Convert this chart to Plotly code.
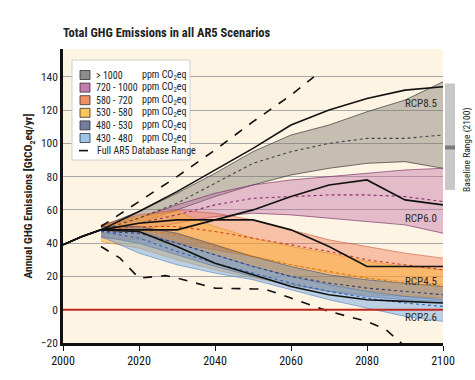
import plotly.graph_objects as go

# ---------------- data ----------------
years = [2010, 2020, 2030, 2040, 2050, 2060, 2070, 2080, 2090, 2100]
hist_years = [2000, 2005, 2010]
hist_vals = [39, 44, 48]

categories = ["> 1000", "720 - 1000", "580 - 720", "530 - 580", "480 - 530", "430 - 480"]
band_low = {
    "> 1000":     [47, 52, 60, 68, 75, 81, 85, 88, 89, 85],
    "720 - 1000": [45, 48, 52, 56, 58, 57, 55, 53, 51, 46],
    "580 - 720":  [43, 42, 40, 36, 32, 27, 22, 19, 17, 15],
    "530 - 580":  [41, 37, 30, 24, 19, 15, 11, 9, 8, 7],
    "480 - 530":  [44, 40, 33, 26, 20, 15, 11, 8, 6, 5],
    "430 - 480":  [44, 34, 27, 22, 18, 12, 6, 1, -4, -7],
}
band_med = {
    "> 1000":     [48, 55, 64, 76, 88, 95, 100, 103, 103, 105],
    "720 - 1000": [48, 52, 57, 63, 67, 68, 69, 69, 68, 65],
    "580 - 720":  [48, 50, 50, 47, 43, 39, 35, 30, 27, 24],
    "530 - 580":  [47, 48, 45, 38, 32, 27, 23, 19, 16, 14],
    "480 - 530":  [47, 46, 40, 33, 26, 20, 16, 13, 11, 9],
    "430 - 480":  [47, 43, 35, 28, 22, 16, 11, 7, 4, 2],
}
band_high = {
    "> 1000":     [50, 59, 70, 82, 95, 105, 111, 119, 126, 137],
    "720 - 1000": [50, 55, 63, 70, 75, 78, 80, 82, 84, 85],
    "580 - 720":  [51, 57, 60, 58, 54, 48, 42, 38, 34, 31],
    "530 - 580":  [50, 56, 59, 50, 43, 38, 34, 29, 26, 24],
    "480 - 530":  [50, 50, 46, 39, 32, 26, 21, 18, 16, 14],
    "430 - 480":  [49, 47, 40, 33, 26, 20, 15, 11, 8, 6],
}

rcp_years = [2010, 2020, 2030, 2040, 2050, 2060, 2070, 2080, 2090, 2100]
rcp_names = ["RCP8.5", "RCP6.0", "RCP4.5", "RCP2.6"]
rcp_vals = {
    "RCP8.5": [48, 59, 71, 84, 97, 111, 120, 127, 132, 134],
    "RCP6.0": [47, 48, 48, 54, 60, 68, 75, 78, 66, 63],
    "RCP4.5": [48, 52, 54, 54, 54, 48, 38, 26, 26, 26],
    "RCP2.6": [47, 47, 38, 28, 21, 14, 9, 6, 5, 4],
}
rcp_label_y = {"RCP8.5": 124, "RCP6.0": 55, "RCP4.5": 17, "RCP2.6": -4.5}

db_upper_years = [2010, 2020, 2030, 2040, 2050, 2060, 2066]
db_upper_vals = [50, 65, 80, 96, 113, 129, 140]
db_lower_years = [2010, 2015, 2020, 2027, 2030, 2040, 2050, 2053, 2060, 2070, 2080, 2085, 2090]
db_lower_vals = [38, 31, 19, 20.5, 19, 13, 12.5, 12.5, 7, -1, -7, -12, -22]

baseline_range = [72, 136]
baseline_median = 97.5

# ---------------- style ----------------
FONT = "Liberation Sans Narrow, Arial Narrow, Roboto Condensed, DejaVu Sans Condensed, Roboto, sans-serif"
fills = {
    "> 1000": "rgba(118,114,108,0.42)",
    "720 - 1000": "rgba(190,105,160,0.40)",
    "580 - 720": "rgba(240,120,80,0.42)",
    "530 - 580": "rgba(252,175,50,0.50)",
    "480 - 530": "rgba(85,95,140,0.42)",
    "430 - 480": "rgba(120,170,225,0.50)",
}
edges = {
    "> 1000": "rgba(60,60,60,0.9)",
    "720 - 1000": "rgba(120,40,100,0.8)",
    "580 - 720": "rgba(200,80,50,0.7)",
    "530 - 580": "rgba(220,140,30,0.7)",
    "480 - 530": "rgba(50,60,110,0.7)",
    "430 - 480": "rgba(70,120,190,0.7)",
}
meds = {
    "> 1000": "#444444",
    "720 - 1000": "#8a2e6e",
    "580 - 720": "#d0401e",
    "530 - 580": "#d97a00",
    "480 - 530": "#2c3a80",
    "430 - 480": "#2f66c0",
}
swatch = {
    "> 1000": "#8c8c8c",
    "720 - 1000": "#c57cae",
    "580 - 720": "#f08e66",
    "530 - 580": "#fcc558",
    "480 - 530": "#727c9e",
    "430 - 480": "#9cc3ea",
}

fig = go.Figure()

for c in categories:
    fig.add_trace(go.Scatter(x=years, y=band_low[c], mode="lines",
                             line=dict(color=edges[c], width=0.8), showlegend=False, hoverinfo="skip"))
    fig.add_trace(go.Scatter(x=years, y=band_high[c], mode="lines", fill="tonexty",
                             fillcolor=fills[c], line=dict(color=edges[c], width=0.8),
                             showlegend=False, hoverinfo="skip"))
for c in categories:
    fig.add_trace(go.Scatter(x=years, y=band_med[c], mode="lines",
                             line=dict(color=meds[c], width=1.1, dash="dot"), showlegend=False))

for r in rcp_names:
    fig.add_trace(go.Scatter(x=hist_years + rcp_years[1:], y=hist_vals + rcp_vals[r][1:], mode="lines",
                             line=dict(color="#111111", width=1.6), showlegend=False))

fig.add_trace(go.Scatter(x=db_upper_years, y=db_upper_vals, mode="lines",
                         line=dict(color="#111111", width=1.6, dash="dash"), showlegend=False))
fig.add_trace(go.Scatter(x=db_lower_years, y=db_lower_vals, mode="lines",
                         line=dict(color="#111111", width=1.6, dash="dash"), showlegend=False))

# zero line
fig.add_hline(y=0, line=dict(color="#c0281e", width=2))

for r in rcp_names:
    fig.add_annotation(x=2099, y=rcp_label_y[r], text=r, showarrow=False, xanchor="right", yanchor="middle",
                       font=dict(family=FONT, size=11, color="#2a2a2a"))

# baseline range bar (outside, right)
W, H, L, B = 380.0, 294.0, 63.0, 343.0
def xp(px):
    return (px - L) / W
def yp(py):
    return (B - py) / H

fig.add_shape(type="rect", xref="paper", yref="y", x0=xp(445), x1=xp(455),
              y0=baseline_range[0], y1=baseline_range[1], fillcolor="#c8c8c8", line=dict(width=0))
fig.add_shape(type="rect", xref="paper", yref="y", x0=xp(445), x1=xp(455),
              y0=baseline_median - 1.2, y1=baseline_median + 1.2, fillcolor="#7a7a7a", line=dict(width=0))
fig.add_annotation(xref="paper", yref="y", x=xp(459), y=96, text="Baseline Range (2100)",
                   textangle=-90, showarrow=False, xanchor="left", yanchor="middle",
                   font=dict(family=FONT, size=9.5, color="#222"))

# custom legend
fig.add_shape(type="rect", xref="paper", yref="paper", x0=xp(72), x1=xp(190), y0=yp(160), y1=yp(60),
              fillcolor="white", line=dict(color="#cfcfcf", width=1), layer="above")
for i, c in enumerate(categories):
    cy = 75 + 12.6 * i
    fig.add_shape(type="rect", xref="paper", yref="paper", x0=xp(80), x1=xp(90),
                  y0=yp(cy + 4.5), y1=yp(cy - 4.5), fillcolor=swatch[c],
                  line=dict(color="#333", width=0.8), layer="above")
    fig.add_annotation(xref="paper", yref="paper", x=xp(94), y=yp(cy), text=c,
                       xanchor="left", yanchor="middle",
                       showarrow=False, font=dict(family=FONT, size=10, color="#222"))
    fig.add_annotation(xref="paper", yref="paper", x=xp(140), y=yp(cy), text="ppm CO<sub>2</sub>eq",
                       xanchor="left", yanchor="middle",
                       showarrow=False, font=dict(family=FONT, size=10, color="#222"))
cy = 75 + 12.6 * 6
fig.add_shape(type="line", xref="paper", yref="paper", x0=xp(79), x1=xp(93), y0=yp(cy), y1=yp(cy),
              line=dict(color="#111", width=1.6, dash="dash"), layer="above")
fig.add_annotation(xref="paper", yref="paper", x=xp(95), y=yp(cy), text="Full AR5 Database Range",
                   xanchor="left", yanchor="middle",
                   showarrow=False, font=dict(family=FONT, size=10, color="#222"))

fig.update_layout(
    width=475, height=380,
    margin=dict(l=63, r=32, t=49, b=37, autoexpand=False),
    paper_bgcolor="white", plot_bgcolor="#fdf4e4",
    font=dict(family=FONT, color="#222"),
    title=dict(text="<b>Total GHG Emissions in all AR5 Scenarios</b>", x=63 / 475,
               xref="container", xanchor="left", y=1 - 33 / 380, yanchor="middle",
               font=dict(family=FONT, size=12.5, color="#222")),
    showlegend=False,
)
fig.update_xaxes(range=[2000, 2100], tickvals=[2000, 2020, 2040, 2060, 2080, 2100],
                 tickfont=dict(family=FONT, size=12, color="#111"), tickprefix="<b>", ticksuffix="</b>",
                 showgrid=False, showline=True, linecolor="#111", linewidth=2.5, automargin=False,
                 ticks="outside", ticklen=5, tickcolor="#111", tickwidth=1, zeroline=False)
fig.update_yaxes(range=[-20, 156.7], tickvals=list(range(-20, 141, 20)),
                 tickfont=dict(family=FONT, size=11.5, color="#222"), automargin=False,
                 showgrid=True, gridcolor="#a8a8a8", gridwidth=0.8,
                 showline=True, linecolor="#111", linewidth=2.5, zeroline=False, ticks="",
                 title=dict(text="<b>Annual GHG Emissions [GtCO<sub>2</sub>eq/yr]</b>",
                            font=dict(family=FONT, size=11.5, color="#222"), standoff=6))

fig.write_html("out.html", post_script="document.body.style.margin='0';",
               config={"displayModeBar": False})
